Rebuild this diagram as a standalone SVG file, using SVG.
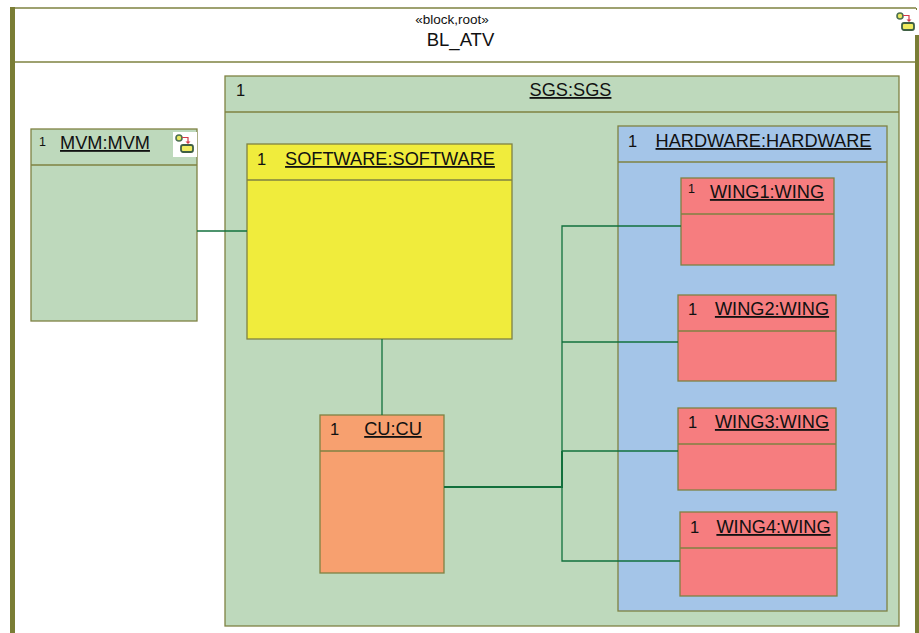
<svg xmlns="http://www.w3.org/2000/svg" width="919" height="633" viewBox="0 0 919 633">
<defs>
<style>
text{font-family:"Liberation Sans",Arial,sans-serif;fill:#111}
.b{stroke:#7f8242;stroke-width:1.3}
.g{fill:#bed9bc}.y{fill:#f0ec3c}.o{fill:#f7a06f}.h{fill:#a4c5e8}.r{fill:#f67d7f}
.l{stroke:#7f8242;stroke-width:1.3;fill:none}
.n{font-size:18.2px;text-decoration:underline}
.m{font-size:16.5px}
.c{stroke:#12703c;stroke-width:1.3;fill:none}
.c2{stroke:#12703c;stroke-width:2;fill:none}
</style>
<g id="ico">
<rect x="0" y="0" width="24" height="25" fill="#fff"/>
<circle cx="6" cy="6" r="3" fill="#e8e860" stroke="#4d7050" stroke-width="1.6"/>
<path d="M9 5.500H15V11" fill="none" stroke="#d33a4a" stroke-width="1.2"/>
<path d="M12.500 9.500H17.500L15 12Z" fill="#d33a4a"/>
<rect x="8" y="13" width="12" height="7" rx="2" fill="#f0ec60" stroke="#3f6044" stroke-width="1.8"/>
</g>
</defs>
<g id="BL_ATV">
<rect x="15" y="8" width="901" height="625" fill="#fff"/>
<path class="l" d="M15 8H916M15 62H916"/>
<rect x="10" y="7" width="5" height="626" fill="#7a7d35"/>
<rect x="915" y="35" width="4" height="598" fill="#7a7d35"/>
<rect x="916" y="8" width="1" height="27" fill="#7a7d35"/>
<text x="452" y="24" font-size="13.500" text-anchor="middle">«block,root»</text>
<text x="460.500" y="46" font-size="18.500" text-anchor="middle">BL_ATV</text>
<use href="#ico" x="894" y="10"/>
</g>
<g id="SGS">
<rect x="225" y="76" width="674" height="550" class="g b"/>
<path class="l" d="M225 112H899"/>
<text x="236" y="96" class="m">1</text>
<text x="570.500" y="96" class="n" text-anchor="middle">SGS:SGS</text>
</g>
<g id="MVM">
<rect x="31" y="129" width="166" height="192" class="g b"/>
<path class="l" d="M31 165H197"/>
<text x="39" y="146" font-size="12.500">1</text>
<text x="105" y="149" class="n" text-anchor="middle">MVM:MVM</text>
<use href="#ico" x="173" y="132"/>
</g>
<g id="SOFTWARE">
<rect x="247" y="144" width="265" height="195" class="y b"/>
<path class="l" d="M247 180H512"/>
<text x="257" y="165" class="m">1</text>
<text x="390" y="165" class="n" text-anchor="middle">SOFTWARE:SOFTWARE</text>
</g>
<g id="CU">
<rect x="320" y="415" width="124" height="158" class="o b"/>
<path class="l" d="M320 451H444"/>
<text x="330" y="435" class="m">1</text>
<text x="393" y="435" class="n" text-anchor="middle">CU:CU</text>
</g>
<g id="HARDWARE">
<rect x="618" y="126" width="269" height="485" class="h b"/>
<path class="l" d="M618 162H887"/>
<text x="628" y="147" class="m">1</text>
<text x="763.500" y="147" class="n" text-anchor="middle">HARDWARE:HARDWARE</text>
</g>
<g id="WING1">
<rect x="681" y="178" width="153" height="87" class="r b"/>
<path class="l" d="M681 214H834"/>
<text x="688" y="193" font-size="12.500">1</text>
<text x="767" y="198" class="n" text-anchor="middle">WING1:WING</text>
</g>
<g id="WING2">
<rect x="678" y="295" width="158" height="86" class="r b"/>
<path class="l" d="M678 331H836"/>
<text x="688" y="315" class="m">1</text>
<text x="772" y="315" class="n" text-anchor="middle">WING2:WING</text>
</g>
<g id="WING3">
<rect x="678" y="408" width="158" height="82" class="r b"/>
<path class="l" d="M678 444H836"/>
<text x="688" y="428" class="m">1</text>
<text x="772" y="428" class="n" text-anchor="middle">WING3:WING</text>
</g>
<g id="WING4">
<rect x="680" y="512" width="157" height="84" class="r b"/>
<path class="l" d="M680 548H837"/>
<text x="690" y="533" class="m">1</text>
<text x="773.500" y="533" class="n" text-anchor="middle">WING4:WING</text>
</g>
<g id="connectors">
<path class="c" d="M197 231H247"/>
<path class="c" d="M382 339V415"/>
<path class="c2" d="M444 487H562V451"/>
<path class="c" d="M562 451V226H681"/>
<path class="c" d="M562 342H678"/>
<path class="c" d="M562 451H678"/>
<path class="c" d="M562 487V561H680"/>
</g>
</svg>
